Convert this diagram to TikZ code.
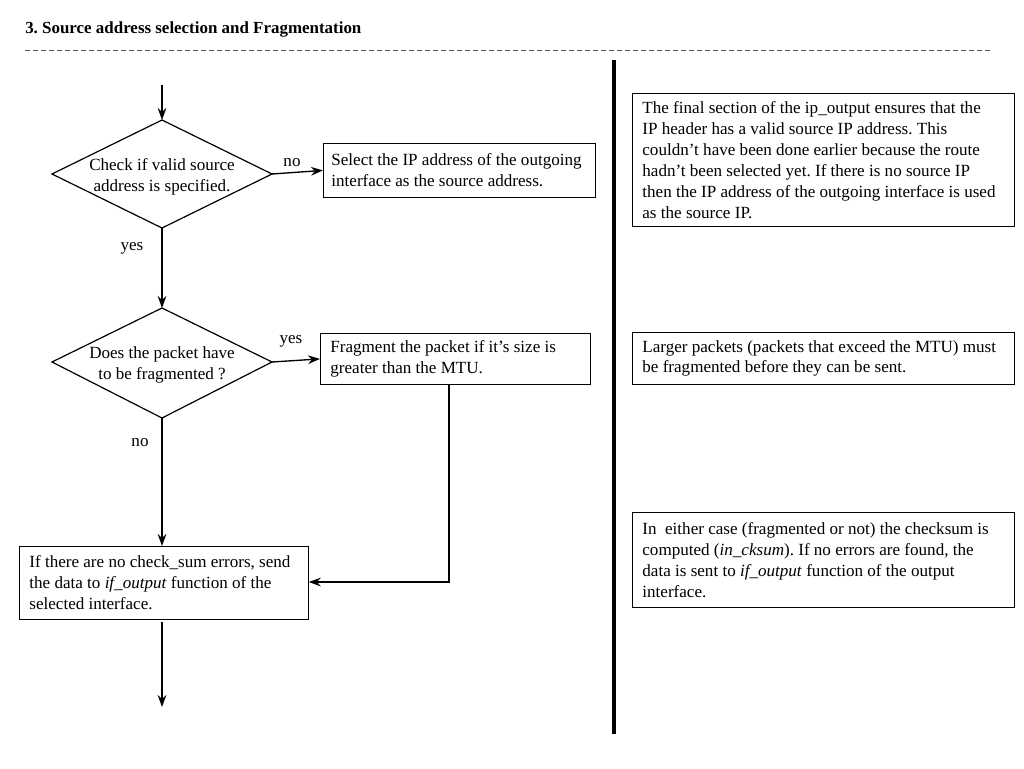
\documentclass[tikz,border=0pt]{standalone}
\usepackage{fontspec}
\setmainfont{Liberation Serif}
\usetikzlibrary{arrows.meta,shapes.geometric}
\begin{document}
\frenchspacing
\begin{tikzpicture}[x=0.75pt,y=-0.75pt,
  txt/.style={font=\fontsize{12.8}{15.7}\selectfont},
  box/.style={draw, line width=0.6pt, txt, align=flush left, inner xsep=7.5pt, inner ysep=0pt, anchor=north west},
  lbl/.style={txt, inner sep=0pt},
  arr/.style={line width=1pt, -{Stealth[length=9pt,width=6.5pt]}},
  ln/.style={line width=0.9pt}]
\useasboundingbox (0,0) rectangle (1024,768);
% title
\node[anchor=base west, inner sep=0pt, font=\bfseries\fontsize{12.7}{15}\selectfont] (title) at (25,33) {3. Source address selection and Fragmentation};
\coordinate (dl) at (25,50);
\coordinate (dr) at (992,50);
\draw[line width=0.7pt, gray!70!black, dash pattern=on 3.5pt off 2.5pt] (dl) -- (dr);
% separator
\coordinate (st) at (614,60);
\coordinate (sb) at (614,734);
\draw[line width=3pt] (st) -- (sb);
% diamonds
\coordinate (d1t) at (162,120);
\coordinate (d1r) at (272,174);
\coordinate (d1b) at (162,228);
\coordinate (d1l) at (52,174);
\draw[ln] (d1t) -- (d1r) -- (d1b) -- (d1l) -- cycle;
\node[lbl, align=center] (d1) at (162,177) {Check if valid source\\address is specified.};
\coordinate (d2t) at (162,308);
\coordinate (d2r) at (272,362);
\coordinate (d2b) at (162,418);
\coordinate (d2l) at (52,362);
\draw[ln] (d2t) -- (d2r) -- (d2b) -- (d2l) -- cycle;
\node[lbl, align=center] (d2) at (162,365) {Does the packet have\\to be fragmented ?};
% boxes
\node[box, inner xsep=6pt, minimum width=272*0.75pt, minimum height=54*0.75pt, text width=256*0.75pt] (b1) at (323,143) {Select the IP address of the outgoing\\interface as the source address.};
\node[box, minimum width=270*0.75pt, minimum height=51*0.75pt, text width=250*0.75pt] (b2) at (320,333) {Fragment the packet if it’s size is\\greater than the MTU.};
\node[box, minimum width=289*0.75pt, minimum height=73*0.75pt, text width=269*0.75pt] (b3) at (19,546) {If there are no check\_sum errors, send\\the data to \textit{if\_output} function of the\\selected interface.};
% right notes
\node[box, minimum width=382*0.75pt, minimum height=133*0.75pt, text width=362*0.75pt] (r1) at (632,93) {The final section of the ip\_output ensures that the\\IP header has a valid source IP address. This\\couldn’t have been done earlier because the route\\hadn’t been selected yet. If there is no source IP\\then the IP address of the outgoing interface is used\\as the source IP.};
\node[box, minimum width=382*0.75pt, minimum height=52*0.75pt, text width=362*0.75pt] (r2) at (632,332) {Larger packets (packets that exceed the MTU) must\\be fragmented before they can be sent.};
\node[box, minimum width=382*0.75pt, minimum height=95*0.75pt, text width=362*0.75pt] (r3) at (632,512) {In\ \ either case (fragmented or not) the checksum is\\computed (\textit{in\_cksum}). If no errors are found, the\\data is sent to \textit{if\_output} function of the output\\interface.};
% connectors
\coordinate (in) at (162,85);
\draw[arr] (in) -- (d1t);
\draw[arr] (d1r) -- (b1.west);
\node[lbl] (no1) at (292,163) {no};
\draw[arr] (d1b) -- (d2t);
\node[lbl] (yes1) at (132,248) {yes};
\draw[arr] (d2r) -- (b2.west);
\node[lbl] (yes2) at (291,341) {yes};
\draw[arr] (d2b) -- (b3.north -| d2b);
\node[lbl] (no2) at (140,443) {no};
\coordinate (bend) at (449,582);
\draw[arr] (b2.south -| bend) -- (bend) -- (b3.east |- bend);
\coordinate (ostart) at (162,622);
\coordinate (out) at (162,707);
\draw[arr] (ostart) -- (out);
\end{tikzpicture}
\end{document}
